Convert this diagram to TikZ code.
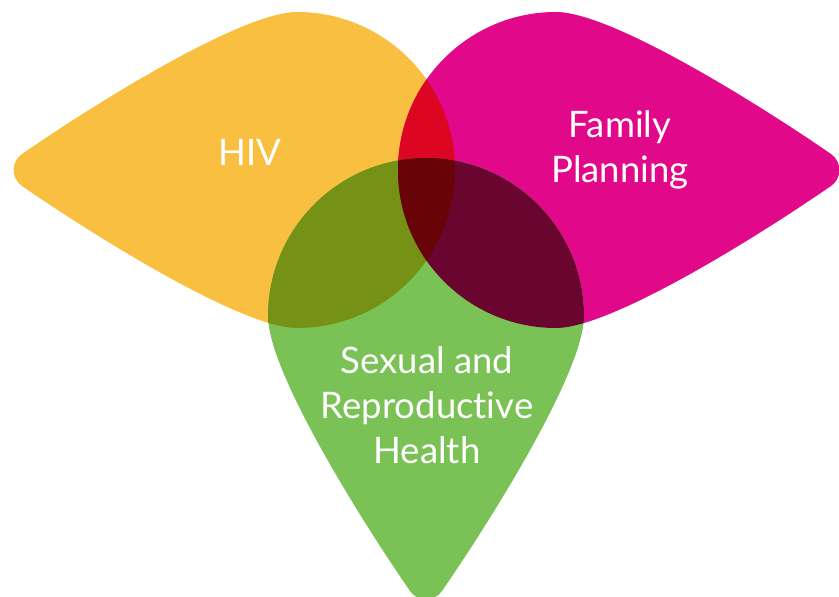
\documentclass[tikz,border=0pt]{standalone}
\usepackage{fontspec}
\setmainfont{Lato}[Ligatures=NoCommon]
\definecolor{hivc}{HTML}{F9BF40}
\definecolor{fpc}{HTML}{E1098A}
\definecolor{srhc}{HTML}{7AC255}
\definecolor{hivfp}{HTML}{DC0623}
\definecolor{hivsrh}{HTML}{759116}
\definecolor{fpsrh}{HTML}{69052F}
\definecolor{allc}{HTML}{680408}
% teardrop: circle radius 158 at the centre, rounded tip along the rotated +x axis
\newcommand\tdpath[2]{[shift={#1},rotate=#2] (0,158)
  .. controls (55,158) and (200.9,67.1) .. (275,16)
  arc[start angle=55.4,end angle=-55.4,radius=19.44]
  .. controls (200.9,-67.1) and (55,-158) .. (0,-158)
  arc[start angle=-90,end angle=-270,radius=158] -- cycle}
\newcommand\hivpath{\tdpath{(297,427)}{180}}
\newcommand\fppath{\tdpath{(556,427)}{0}}
\newcommand\srhpath{\tdpath{(426,281)}{-90}}
\tikzset{lbl/.style={text=white,font=\fontsize{36.5}{45}\selectfont,align=center,inner sep=0pt}}
\begin{document}
\begin{tikzpicture}[x=1pt,y=1pt]
\useasboundingbox (0,0) rectangle (839,597);
\fill[hivc] \hivpath;
\fill[fpc] \fppath;
\fill[srhc] \srhpath;
\begin{scope}
  \clip \hivpath;
  \fill[hivfp] \fppath;
  \fill[hivsrh] \srhpath;
\end{scope}
\begin{scope}
  \clip \fppath;
  \fill[fpsrh] \srhpath;
\end{scope}
\begin{scope}
  \clip \hivpath;
  \clip \fppath;
  \fill[allc] \srhpath;
\end{scope}
\node[lbl,anchor=base] (hiv) at (250,431) {HIV};
\node[lbl] (fp) at (620,447) {Family\\Planning};
\node[lbl] (srh) at (427,191.5) {Sexual and\\Reproductive\\Health};
\end{tikzpicture}
\end{document}
